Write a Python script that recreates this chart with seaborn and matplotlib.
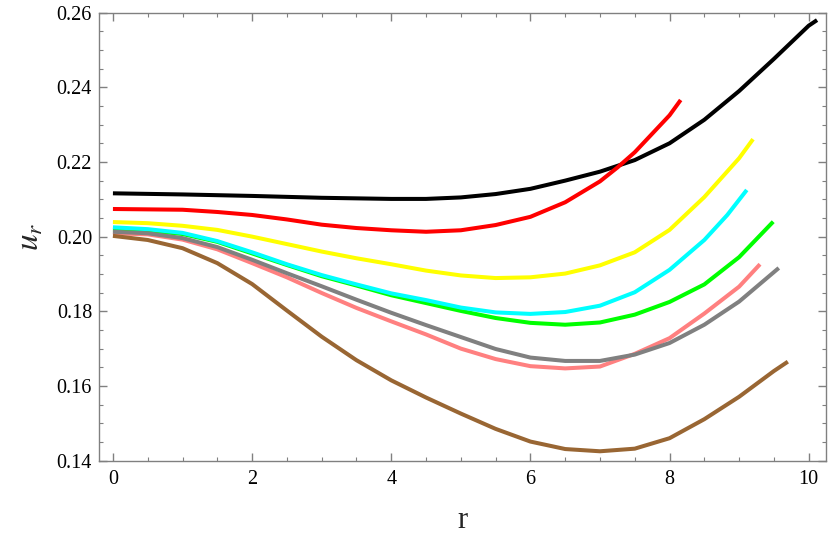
import numpy as np
import pandas as pd
import matplotlib
matplotlib.use("Agg")
import matplotlib.pyplot as plt
from matplotlib.ticker import MultipleLocator, FormatStrFormatter
import seaborn as sns

# ---- data ----
black_x = [0, 1, 2, 3, 4, 4.5, 5, 5.5, 6, 6.5, 7, 7.5, 8, 8.5, 9, 9.5, 10, 10.12]
black_y = [0.2116, 0.2113, 0.2109, 0.2104, 0.2101, 0.2101, 0.2105, 0.2114, 0.2128, 0.2150,
           0.2174, 0.2205, 0.2250, 0.2313, 0.2390, 0.2476, 0.2565, 0.2580]

red_x = [0, 1, 1.5, 2, 2.5, 3, 3.5, 4, 4.5, 5, 5.5, 6, 6.5, 7, 7.25, 7.5, 8, 8.16]
red_y = [0.2074, 0.2072, 0.2066, 0.2058, 0.2046, 0.2032, 0.2023, 0.2017, 0.2013, 0.2017,
         0.2031, 0.2053, 0.2092, 0.2148, 0.2185, 0.2226, 0.2325, 0.2366]

yellow_x = [0, 0.5, 1, 1.5, 2, 2.5, 3, 3.5, 4, 4.5, 5, 5.5, 6, 6.5, 7, 7.5, 8, 8.5, 9, 9.2]
yellow_y = [0.2039, 0.2036, 0.2029, 0.2018, 0.2000, 0.1980, 0.1960, 0.1942, 0.1926, 0.1909,
            0.1896, 0.1889, 0.1891, 0.1901, 0.1923, 0.1958, 0.2018, 0.2106, 0.2210, 0.2261]

green_x = [0, 0.5, 1, 1.5, 2, 2.5, 3, 3.5, 4, 4.5, 5, 5.5, 6, 6.5, 7, 7.5, 8, 8.5, 9, 9.49]
green_y = [0.2019, 0.2016, 0.2007, 0.1986, 0.1955, 0.1924, 0.1894, 0.1869, 0.1843, 0.1822,
           0.1801, 0.1782, 0.1769, 0.1764, 0.1770, 0.1791, 0.1825, 0.1872, 0.1945, 0.2040]

cyan_x = [0, 0.5, 1, 1.5, 2, 2.5, 3, 3.5, 4, 4.5, 5, 5.5, 6, 6.5, 7, 7.5, 8, 8.5, 8.83, 9.11]
cyan_y = [0.2025, 0.2020, 0.2010, 0.1988, 0.1958, 0.1926, 0.1897, 0.1872, 0.1848, 0.1830,
          0.1810, 0.1797, 0.1793, 0.1798, 0.1815, 0.1851, 0.1911, 0.1991, 0.2058, 0.2125]

pink_x = [0, 0.5, 1, 1.5, 2, 2.5, 3, 3.5, 4, 4.5, 5, 5.5, 6, 6.5, 7, 7.5, 8, 8.5, 9, 9.3]
pink_y = [0.2009, 0.2006, 0.1992, 0.1966, 0.1929, 0.1891, 0.1849, 0.1809, 0.1773, 0.1738,
          0.1700, 0.1672, 0.1653, 0.1647, 0.1652, 0.1686, 0.1728, 0.1794, 0.1866, 0.1926]

gray_x = [0, 0.5, 1, 1.5, 2, 2.5, 3, 3.5, 4, 4.5, 5, 5.5, 6, 6.5, 7, 7.5, 8, 8.5, 9, 9.57]
gray_y = [0.2013, 0.2009, 0.1996, 0.1972, 0.1938, 0.1902, 0.1867, 0.1831, 0.1796, 0.1763,
          0.1731, 0.1699, 0.1676, 0.1667, 0.1667, 0.1684, 0.1715, 0.1764, 0.1826, 0.1916]

brown_x = [0, 0.5, 1, 1.5, 2, 2.5, 3, 3.5, 4, 4.5, 5, 5.5, 6, 6.5, 7, 7.5, 8, 8.5, 9, 9.5, 9.7]
brown_y = [0.2002, 0.1991, 0.1969, 0.1929, 0.1873, 0.1802, 0.1732, 0.1669, 0.1615, 0.1569,
           0.1526, 0.1485, 0.1451, 0.1431, 0.1425, 0.1432, 0.1460, 0.1511, 0.1571, 0.1640,
           0.1665]

series = [
    ("black", black_x, black_y, "#000000"),
    ("red", red_x, red_y, "#ff0000"),
    ("yellow", yellow_x, yellow_y, "#ffff00"),
    ("green", green_x, green_y, "#00ff00"),
    ("cyan", cyan_x, cyan_y, "#00ffff"),
    ("pink", pink_x, pink_y, "#ff8080"),
    ("gray", gray_x, gray_y, "#808080"),
    ("brown", brown_x, brown_y, "#996633"),
]

frames = []
for name, xs, ys, _ in series:
    frames.append(pd.DataFrame({"r": xs, "u": ys, "curve": name}))
df = pd.concat(frames, ignore_index=True)
palette = {name: c for name, _, _, c in series}

sns.set_theme(style="ticks")
plt.rcParams["font.family"] = ["Liberation Serif", "DejaVu Serif"]
plt.rcParams["mathtext.fontset"] = "stix"

fig = plt.figure(figsize=(8.3, 5.49), dpi=100)
ax = fig.add_axes([0.1193, 0.161, 0.876, 0.816])

sns.lineplot(data=df, x="r", y="u", hue="curve", hue_order=[s[0] for s in series],
             palette=palette, sort=False, estimator=None, legend=False,
             linewidth=2.9, ax=ax)
for ln in ax.get_lines():
    ln.set_solid_joinstyle("round")
    ln.set_solid_capstyle("butt")

ax.set_xlim(-0.2, 10.25)
ax.set_ylim(0.14, 0.26)
ax.xaxis.set_major_locator(MultipleLocator(2))
ax.xaxis.set_minor_locator(MultipleLocator(0.5))
ax.yaxis.set_major_locator(MultipleLocator(0.02))
ax.yaxis.set_minor_locator(MultipleLocator(0.005))
ax.yaxis.set_major_formatter(FormatStrFormatter("%.2f"))
ax.xaxis.set_major_formatter(FormatStrFormatter("%d"))

tc = "#808080"
for sp in ax.spines.values():
    sp.set_color(tc)
    sp.set_linewidth(1.0)
ax.tick_params(which="both", direction="in", top=True, right=True, color=tc,
               labelsize=14.5, labelcolor="black")
ax.tick_params(which="major", length=6, width=1.0)
ax.tick_params(which="minor", length=3, width=0.8)
ax.tick_params(axis="y", pad=5)
ax.tick_params(axis="x", pad=7)

ax.set_xlabel("r", fontsize=22, labelpad=12)
ax.set_ylabel(r"$u_r$", fontsize=24, labelpad=8)

fig.savefig("out.png", dpi=100, facecolor="white")
